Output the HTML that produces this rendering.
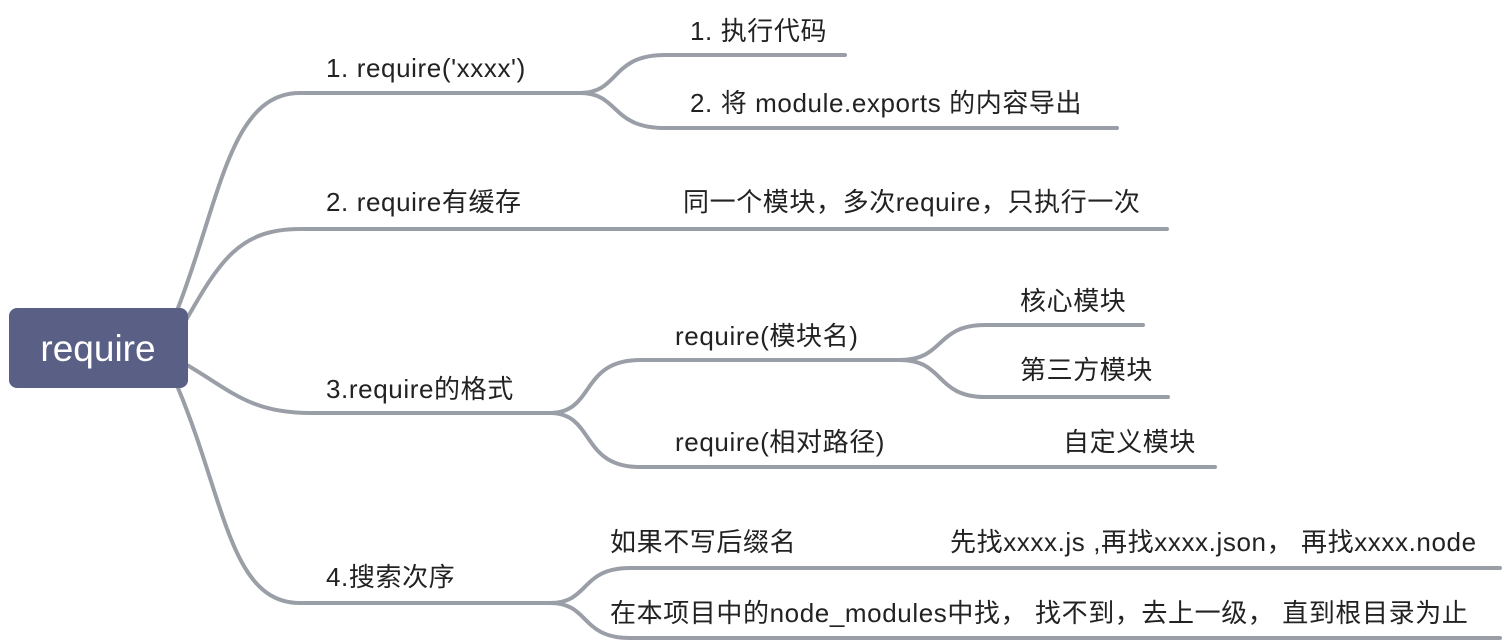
<!DOCTYPE html>
<html><head><meta charset="utf-8"><style>
html,body{margin:0;padding:0;background:#fff;}
svg{display:block;}
text{font-family:"Liberation Sans","Noto Sans CJK SC",sans-serif;font-size:26px;letter-spacing:0.6px;fill:#222;}
</style></head><body>
<svg width="1512" height="644" viewBox="0 0 1512 644" xmlns="http://www.w3.org/2000/svg">
<g fill="none" stroke="#9a9ea6" stroke-width="4" stroke-linecap="round">
<path d="M178,308 C220,200 230,93 300,93 L580,93"/>
<path d="M580,93 C620,93 610,55 665,55 L845,55"/>
<path d="M580,93 C620,93 610,128 665,128 L1117,128"/>
<path d="M185,322 C220,260 240,229 300,229 L1167,229"/>
<path d="M187,365 C230,390 250,413 310,413 L550,413"/>
<path d="M550,413 C595,413 580,360 640,360 L900,360"/>
<path d="M550,413 C595,413 580,467 640,467 L1215,467"/>
<path d="M900,360 C945,360 935,325 985,325 L1143,325"/>
<path d="M900,360 C945,360 935,397 985,397 L1168,397"/>
<path d="M178,388 C225,500 230,603 300,603 L550,603"/>
<path d="M550,603 C590,603 580,568 630,568 L1500,568"/>
<path d="M550,603 C590,603 580,638 630,638 L1500,638"/>
</g>
<rect x="9" y="308" width="179" height="80" rx="8" fill="#5a5f85"/>
<text x="98" y="361" text-anchor="middle" style="font-size:37px;letter-spacing:0;fill:#fff">require</text>
<text x="326" y="77">1. require('xxxx')</text>
<text x="690" y="40">1. 执行代码</text>
<text x="690" y="112">2. 将 module.exports 的内容导出</text>
<text x="326" y="211">2. require有缓存</text>
<text x="683" y="211">同一个模块，多次require，只执行一次</text>
<text x="326" y="398">3.require的格式</text>
<text x="675" y="345">require(模块名)</text>
<text x="675" y="451">require(相对路径)</text>
<text x="1063" y="451">自定义模块</text>
<text x="1020" y="310">核心模块</text>
<text x="1020" y="379">第三方模块</text>
<text x="326" y="586">4.搜索次序</text>
<text x="610" y="551">如果不写后缀名</text>
<text x="950" y="551">先找xxxx.js ,再找xxxx.json， 再找xxxx.node</text>
<text x="610" y="622">在本项目中的node_modules中找， 找不到，去上一级， 直到根目录为止</text>
</svg>
</body></html>
